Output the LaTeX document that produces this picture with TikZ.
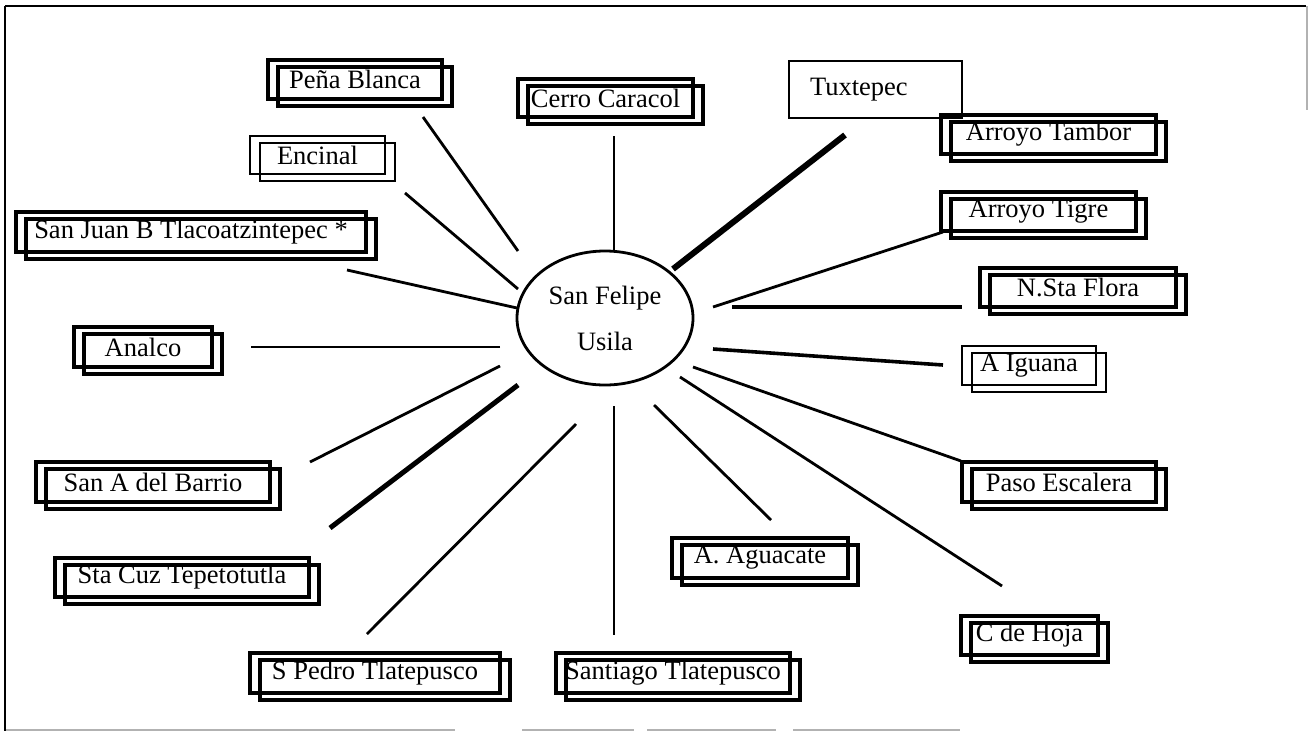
\documentclass[tikz,border=0pt]{standalone}
\usepackage{fontspec}
\setmainfont{Liberation Serif}
\usetikzlibrary{shapes.geometric}
\newcommand{\townfont}{\fontsize{26.5}{30}\selectfont}
\tikzset{
	town/.style={inner sep=0pt, outer sep=0pt, minimum height=39pt, font=\townfont},
	box line/.style={line width=3.4pt},
	faint line/.style={line width=1.8pt},
	road/.style={line width=2.8pt},
	lane/.style={line width=2pt},
	highway/.style={line width=3.6pt},
}

\begin{document}
\begin{tikzpicture}[x=1pt, y=-1pt]
			%%%%% START %%%%%
			\useasboundingbox (0, 0) rectangle (1309, 734);
			
			% frame of the scan
			\draw[line width=2.6pt] (5, 6) -- (1306, 6);
			\draw[line width=2pt] (5, 6) -- (5, 731);
			\draw[line width=1.2pt, black!30] (1307, 6) -- (1307, 110);
			\draw[line width=1.8pt, black!30] (6, 730) -- (455, 730) (522, 730) -- (634, 730) (647, 730) -- (776, 730) (793, 730) -- (960, 730);
			
			% centre
			\node[draw, ellipse, line width=2.8pt, minimum width=176pt, minimum height=134pt, align=center, font=\fontsize{26.5}{46}\selectfont] (usila) at (605, 318) {San Felipe\\Usila};
			
			% places
			\node[town, minimum width=174pt] (pena) at (355, 79.5) {Peña Blanca};
			\node[town, minimum width=135pt, minimum height=38pt] (encinal) at (317.5, 155) {Encinal};
			\node[town, minimum width=350pt, minimum height=40pt] (sanjuan) at (191, 232) {San Juan B Tlacoatzintepec *};
			\node[town, minimum width=175pt, minimum height=38pt] (caracol) at (605.5, 98) {Cerro Caracol};
			\node[town, minimum height=57pt, text width=131pt, inner xsep=21pt, align=left] (tuxtepec) at (875.5, 89.5) {Tuxtepec};
			\node[town, minimum width=215pt] (tambor) at (1048.5, 134.5) {Arroyo Tambor};
			\node[town, minimum width=195pt] (tigre) at (1038.5, 211.5) {Arroyo Tigre};
			\node[town, minimum width=196pt] (flora) at (1078, 287.5) {N.Sta Flora};
			\node[town, minimum width=134pt] (iguana) at (1029, 365.5) {A Iguana};
			\node[town, minimum width=194pt, minimum height=40pt] (paso) at (1059, 482) {Paso Escalera};
			\node[town, minimum width=176pt, minimum height=40pt] (aguacate) at (760, 558) {A. Aguacate};
			\node[town, minimum width=137pt] (hoja) at (1029.5, 635.5) {C de Hoja};
			\node[town, minimum width=234pt, minimum height=40pt] (santiago) at (673, 673) {Santiago Tlatepusco};
			\node[town, minimum width=250pt, minimum height=40pt] (spedro) at (375, 673) {S Pedro Tlatepusco};
			\node[town, minimum width=254pt] (stacruz) at (182, 577.5) {Sta Cuz Tepetotutla};
			\node[town, minimum width=234pt, minimum height=40pt] (barrio) at (153, 482) {San A del Barrio};
			\node[town, minimum width=138pt, minimum height=40pt] (analco) at (143, 347) {Analco};
			
			% two outlines round each box
			\foreach \n in {pena, sanjuan, caracol, tambor, tigre, flora, paso, aguacate, hoja, santiago, spedro, stacruz, barrio, analco} {
				\draw[box line] (\n.north west) rectangle (\n.south east);
				\draw[box line] ([shift={(10, 7)}]\n.north west) rectangle ([shift={(10, 7)}]\n.south east);
			}
			\foreach \n in {encinal, iguana} {
				\draw[faint line] (\n.north west) rectangle (\n.south east);
				\draw[faint line] ([shift={(10, 7)}]\n.north west) rectangle ([shift={(10, 7)}]\n.south east);
			}
			\draw[faint line] (tuxtepec.north west) rectangle (tuxtepec.south east);
			
			% roads
			\coordinate (pena-a) at (518, 251);     \coordinate (pena-b) at (423, 117);
			\coordinate (encinal-a) at (518, 289);  \coordinate (encinal-b) at (405, 193);
			\coordinate (sanjuan-a) at (517, 308);  \coordinate (sanjuan-b) at (347, 270);
			\coordinate (analco-a) at (500, 347);   \coordinate (analco-b) at (251, 347);
			\coordinate (caracol-a) at (614, 250);  \coordinate (caracol-b) at (614, 136);
			\coordinate (tuxtepec-a) at (673, 269); \coordinate (tuxtepec-b) at (845, 135);
			\coordinate (tigre-a) at (713, 307);    \coordinate (tigre-b) at (943, 232);
			\coordinate (flora-a) at (732, 307);    \coordinate (flora-b) at (962, 307);
			\coordinate (iguana-a) at (713, 349);   \coordinate (iguana-b) at (943, 365);
			\coordinate (paso-a) at (693, 367);     \coordinate (paso-b) at (961, 461);
			\coordinate (hoja-a) at (680, 377);     \coordinate (hoja-b) at (1002, 586);
			\coordinate (aguacate-a) at (654, 405); \coordinate (aguacate-b) at (771, 520);
			\coordinate (santiago-a) at (614, 406); \coordinate (santiago-b) at (614, 635);
			\coordinate (spedro-a) at (576, 424);   \coordinate (spedro-b) at (367, 634);
			\coordinate (stacruz-a) at (518, 385);  \coordinate (stacruz-b) at (330, 528);
			\coordinate (barrio-a) at (500, 366);   \coordinate (barrio-b) at (310, 462);
			
			\foreach \n in {pena, encinal, sanjuan, analco, tigre, paso, hoja, aguacate, spedro, barrio}
				\draw[road] (\n-a) -- (\n-b);
			\foreach \n in {caracol, santiago}
				\draw[lane] (\n-a) -- (\n-b);
			\foreach \n in {flora, iguana}
				\draw[highway] (\n-a) -- (\n-b);
			\draw[highway, line width=5pt] (stacruz-a) -- (stacruz-b);
			\draw[highway, line width=6pt] (tuxtepec-a) -- (tuxtepec-b);
			
			%%%%% END %%%%%
\end{tikzpicture}
\end{document}
